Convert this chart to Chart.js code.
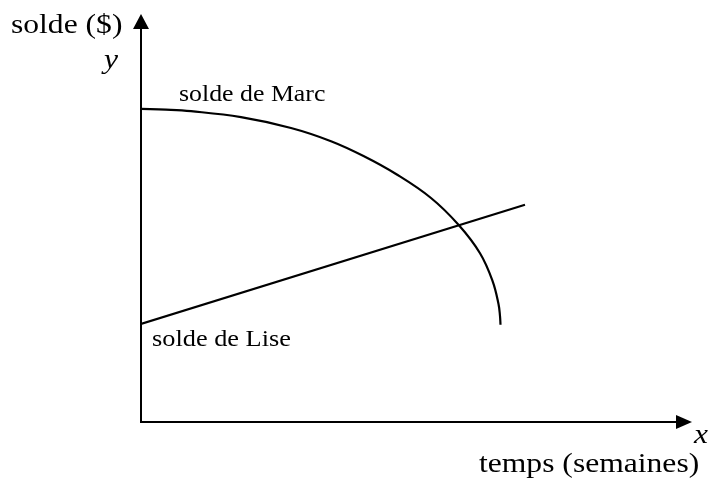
<!DOCTYPE html>
<html>
<head>
<meta charset="utf-8">
<script src="https://cdn.jsdelivr.net/npm/chart.js@4"></script>
<style>
html,body{margin:0;padding:0;background:#fff;}
canvas{display:block;}
.probe{font-family:"Liberation Serif","Times New Roman",Times,serif;position:absolute;left:-9999px;}
</style>
</head>
<body>
<span class="probe">solde <i>xy</i></span>
<canvas id="c" width="711" height="478"></canvas>
<script>
// Data (x: semaines, y: solde, arbitrary units)
const marcWeeks  = [0, 0.5, 1, 2, 3, 3.8, 4.45, 5.1, 5.8, 6.35, 6.78, 7.03, 7.15, 7.18, 7.19];
const marcSolde  = [7.83, 7.81, 7.77, 7.62, 7.35, 7.02, 6.65, 6.2, 5.6, 4.93, 4.22, 3.53, 2.95, 2.65, 2.43];
const liseWeeks  = [0, 7.68];
const liseSolde  = [2.45, 5.43];
const xAxisMax = 11.02;
const yAxisMax = 10.2;

const labelYAxis = "solde ($)";
const labelXAxis = "temps (semaines)";
const labelMarc = "solde de Marc";
const labelLise = "solde de Lise";

const FAMILY = '"Liberation Serif", "Times New Roman", Times, serif';
const toPts = (xs, ys) => xs.map((x, i) => ({x: x, y: ys[i]}));

function stretchedText(ctx, text, x, y, font, stretch) {
  ctx.save();
  ctx.font = font;
  ctx.translate(x, y);
  ctx.scale(stretch, 1);
  ctx.textBaseline = 'alphabetic';
  ctx.textAlign = 'left';
  ctx.fillStyle = '#000';
  ctx.fillText(text, 0, 0);
  ctx.restore();
}

const decor = {
  id: 'decor',
  beforeDatasetsDraw(chart) {
    const ctx = chart.ctx;
    const xs = chart.scales.x, ys = chart.scales.y;
    const ox = xs.getPixelForValue(0), oy = ys.getPixelForValue(0);
    const xt = xs.getPixelForValue(xAxisMax), yt = ys.getPixelForValue(yAxisMax);
    ctx.save();
    ctx.strokeStyle = '#000';
    ctx.fillStyle = '#000';
    ctx.lineWidth = 2;
    ctx.beginPath();
    ctx.moveTo(ox, oy);
    ctx.lineTo(ox, yt + 15);
    ctx.moveTo(ox - 1, oy);
    ctx.lineTo(xt - 16, oy);
    ctx.stroke();
    ctx.beginPath();
    ctx.moveTo(ox, yt);
    ctx.lineTo(ox - 8, yt + 15);
    ctx.lineTo(ox + 8, yt + 15);
    ctx.closePath();
    ctx.fill();
    ctx.beginPath();
    ctx.moveTo(xt, oy);
    ctx.lineTo(xt - 16, oy - 7);
    ctx.lineTo(xt - 16, oy + 7);
    ctx.closePath();
    ctx.fill();
    ctx.restore();
  },
  afterDatasetsDraw(chart) {
    const ctx = chart.ctx;
    const xs = chart.scales.x, ys = chart.scales.y;
    const ox = xs.getPixelForValue(0), oy = ys.getPixelForValue(0);
    const xt = xs.getPixelForValue(xAxisMax), yt = ys.getPixelForValue(yAxisMax);
    stretchedText(ctx, labelYAxis, ox - 130, yt + 19, '27px ' + FAMILY, 1.17);
    stretchedText(ctx, 'y', ox - 37, yt + 54, 'italic 27px ' + FAMILY, 1.17);
    stretchedText(ctx, 'x', xt + 2, oy + 21, 'italic 27px ' + FAMILY, 1.17);
    stretchedText(ctx, labelXAxis, xt - 213, oy + 50, '27px ' + FAMILY, 1.17);
    const mx = xs.getPixelForValue(marcWeeks[0]), my = ys.getPixelForValue(marcSolde[0]);
    stretchedText(ctx, labelMarc, mx + 38, my - 8, '23.5px ' + FAMILY, 1.1);
    const lx = xs.getPixelForValue(liseWeeks[0]), ly = ys.getPixelForValue(liseSolde[0]);
    stretchedText(ctx, labelLise, lx + 11, ly + 22, '23.5px ' + FAMILY, 1.12);
  }
};

function build() {
  new Chart(document.getElementById('c'), {
    type: 'line',
    data: {
      datasets: [
        {
          label: labelMarc,
          data: toPts(marcWeeks, marcSolde),
          borderColor: '#000',
          borderWidth: 2.2,
          pointRadius: 0,
          fill: false,
          tension: 0.4
        },
        {
          label: labelLise,
          data: toPts(liseWeeks, liseSolde),
          borderColor: '#000',
          borderWidth: 2.2,
          pointRadius: 0,
          fill: false,
          tension: 0
        }
      ]
    },
    options: {
      responsive: false,
      animation: false,
      layout: { padding: { left: 141, right: 19, top: 14, bottom: 56 } },
      plugins: { legend: { display: false }, tooltip: { enabled: false } },
      scales: {
        x: { type: 'linear', min: 0, max: xAxisMax, display: false },
        y: { type: 'linear', min: 0, max: yAxisMax, display: false }
      }
    },
    plugins: [decor]
  });
}

const loads = [
  document.fonts.load('27px "Liberation Serif"'),
  document.fonts.load('italic 27px "Liberation Serif"'),
  document.fonts.load('23.5px "Liberation Serif"')
];
Promise.all(loads).then(build, build);
</script>
</body>
</html>
